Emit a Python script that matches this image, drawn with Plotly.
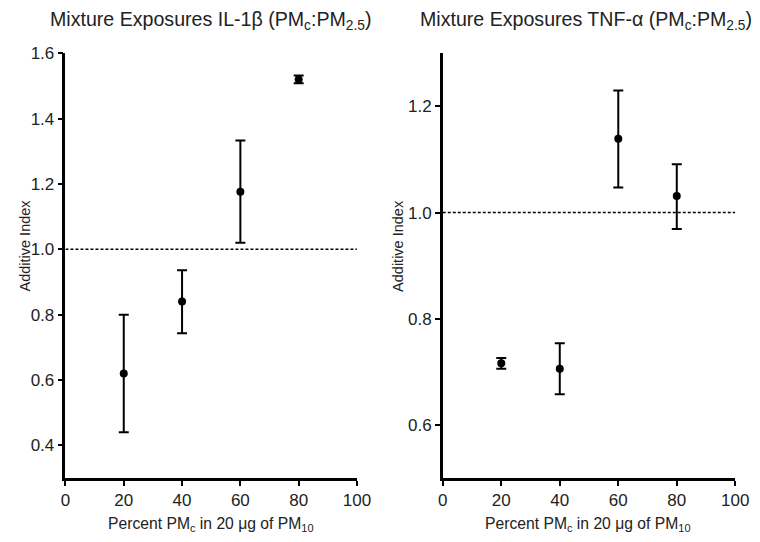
import plotly.graph_objects as go

# Data
x_vals = [20, 40, 60, 80]
il1b_mean = [0.62, 0.84, 1.176, 1.52]
il1b_err_plus = [0.18, 0.096, 0.157, 0.012]
il1b_err_minus = [0.18, 0.097, 0.156, 0.012]
tnf_mean = [0.716, 0.706, 1.139, 1.031]
tnf_err_plus = [0.01, 0.048, 0.091, 0.06]
tnf_err_minus = [0.01, 0.048, 0.092, 0.062]
ref_line = [1.0, 1.0]
ref_x = [0, 100]
x_ticks = [0, 20, 40, 60, 80, 100]
il1b_yticks = [0.4, 0.6, 0.8, 1.0, 1.2, 1.4, 1.6]
tnf_yticks = [0.6, 0.8, 1.0, 1.2]

FONT = "Liberation Sans, Arial, sans-serif"
TXT = "#222222"

fig = go.Figure()

for (xa, ya, mean, ep, em) in [("x", "y", il1b_mean, il1b_err_plus, il1b_err_minus),
                               ("x2", "y2", tnf_mean, tnf_err_plus, tnf_err_minus)]:
    fig.add_trace(go.Scatter(x=ref_x, y=ref_line, mode="lines", xaxis=xa, yaxis=ya,
                             line=dict(color="black", width=1.6, dash="3px,2px"),
                             showlegend=False, hoverinfo="skip"))
    fig.add_trace(go.Scatter(x=x_vals, y=mean, mode="markers", xaxis=xa, yaxis=ya,
                             marker=dict(color="black", size=8),
                             error_y=dict(type="data", symmetric=False, array=ep, arrayminus=em,
                                          color="black", thickness=2, width=5),
                             showlegend=False))

W, H = 760, 542
ydom = [1 - 477 / H, 1 - 45 / H]
common_x = dict(range=[0, 100], tickvals=x_ticks, showline=True, linecolor="black", linewidth=2.5,
                ticks="outside", ticklen=5, tickwidth=2, tickcolor="black", showgrid=False,
                zeroline=False, tickfont=dict(family=FONT, size=17, color=TXT))
common_y = dict(showline=True, linecolor="black", linewidth=2.5, ticks="outside", ticklen=5,
                tickwidth=2, tickcolor="black", showgrid=False, zeroline=False, domain=ydom,
                tickformat=".1f", tickfont=dict(family=FONT, size=17, color=TXT))

fig.update_layout(
    width=W, height=H,
    margin=dict(l=0, r=0, t=0, b=0),
    paper_bgcolor="white", plot_bgcolor="white",
    xaxis=dict(common_x, domain=[62 / W, 361 / W], anchor="y"),
    yaxis=dict(common_y, range=[0.3, 1.6], tickvals=il1b_yticks, anchor="x"),
    xaxis2=dict(common_x, domain=[449 / W, 749 / W], anchor="y2"),
    yaxis2=dict(common_y, range=[0.5, 1.3], tickvals=tnf_yticks, anchor="x2"),
)

ann = [
    dict(text="Mixture Exposures IL-1β (PM<sub>c</sub>:PM<sub>2.5</sub>)", x=211 / W, y=1 - 12 / H,
         font=dict(size=19.6)),
    dict(text="Mixture Exposures TNF-α (PM<sub>c</sub>:PM<sub>2.5</sub>)", x=596 / W, y=1 - 12 / H,
         font=dict(size=19.6)),
    dict(text="Additive Index", x=20 / W, y=1 - 241 / H, textangle=-90, font=dict(size=14.5)),
    dict(text="Additive Index", x=403 / W, y=1 - 241 / H, textangle=-90, font=dict(size=14.5)),
    dict(text="Percent PM<sub>c</sub> in 20 μg of PM<sub>10</sub>", x=211 / W, y=1 - 524 / H,
         font=dict(size=15.7)),
    dict(text="Percent PM<sub>c</sub> in 20 μg of PM<sub>10</sub>", x=598 / W, y=1 - 524 / H,
         font=dict(size=15.7)),
]
for a in ann:
    a.update(xref="paper", yref="paper", showarrow=False, xanchor="center", yanchor="middle")
    a["font"].update(family=FONT, color=TXT)
    fig.add_annotation(**a)

fig.write_html(
    "out.html",
    config={"displayModeBar": False},
    post_script=("document.body.style.margin='0';"
                 "document.body.style.overflow='hidden';"
                 "document.documentElement.style.overflow='hidden';"),
)
